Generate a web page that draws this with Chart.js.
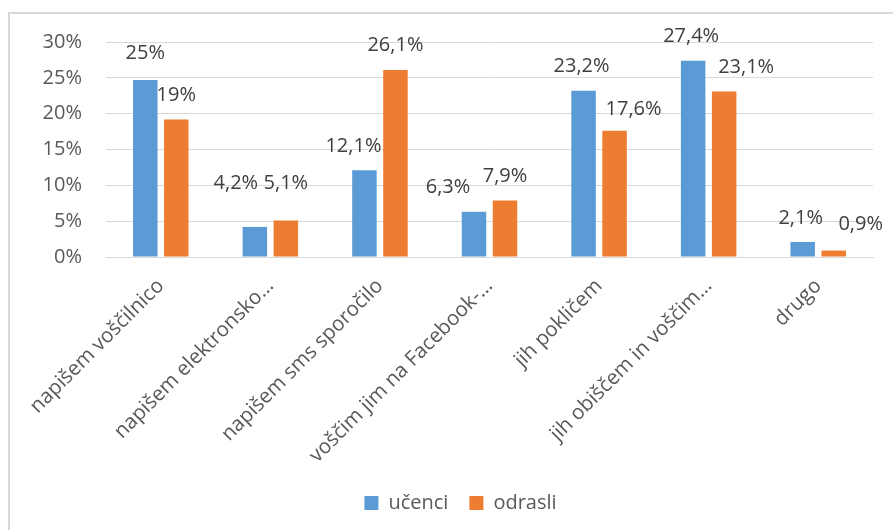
<!DOCTYPE html>
<html lang="sl">
<head>
  <meta charset="UTF-8" />
  <title>Voščila - graf</title>
  <script src="https://cdn.jsdelivr.net/npm/chart.js"></script>
  <style>
    html, body { margin: 0; padding: 0; background: #fff; }
    .okvir {
      position: absolute; left: 8px; top: 12px; width: 900px; height: 530px;
      border-top: 2px solid #d9d9d9; border-left: 2px solid #d9d9d9;
    }
    .graf { position: absolute; left: 0; top: 0; width: 893px; height: 530px; }
  </style>
</head>
<body>

  <div class="okvir"></div>
  <div class="graf"><canvas id="grafVoscila"></canvas></div>

  <script>
    const kategorije = [
      'napišem voščilnico',
      'napišem elektronsko…',
      'napišem sms sporočilo',
      'voščim jim na Facebook-…',
      'jih pokličem',
      'jih obiščem in voščim…',
      'drugo'
    ];
    const ucenci = [24.7, 4.2, 12.1, 6.3, 23.2, 27.4, 2.1];
    const odrasli = [19.2, 5.1, 26.1, 7.9, 17.6, 23.1, 0.9];
    const oznakeUcenci = ['25%', '4,2%', '12,1%', '6,3%', '23,2%', '27,4%', '2,1%'];
    const oznakeOdrasli = ['19%', '5,1%', '26,1%', '7,9%', '17,6%', '23,1%', '0,9%'];
    const yTicks = [0, 5, 10, 15, 20, 25, 30];

    // premiki oznak (ročno premaknjene v izvirniku)
    const premikX = [[0, -19, -11, -26, -2, -2, -2], [0, 0, 0, 0, 19, 22, 27]];
    const premikY = [[3, 20, 0, 1, 0, 0, 0], [0, 13, 1, 0, -2, 0, 2]];

    const pisava = "'Open Sans', sans-serif";

    const oznakePlugin = {
      id: 'oznake',
      afterLayout(chart) {
        // legenda je v izvirniku malo desno od sredine
        chart.legend.left += 24;
        chart.legend.right += 24;
      },
      afterDatasetsDraw(chart) {
        const ctx = chart.ctx;
        ctx.save();
        ctx.font = '20px ' + pisava;
        ctx.fillStyle = '#404040';
        ctx.textAlign = 'center';
        ctx.textBaseline = 'middle';
        const besedila = [oznakeUcenci, oznakeOdrasli];
        chart.data.datasets.forEach((ds, d) => {
          chart.getDatasetMeta(d).data.forEach((bar, i) => {
            ctx.fillText(besedila[d][i], bar.x + premikX[d][i], bar.y - 24 - premikY[d][i]);
          });
        });
        ctx.restore();
      }
    };

    const ctx = document.getElementById('grafVoscila');
    new Chart(ctx, {
      type: 'bar',
      data: {
        labels: kategorije,
        datasets: [
          { label: 'učenci', data: ucenci, backgroundColor: '#5b9bd5' },
          { label: 'odrasli', data: odrasli, backgroundColor: '#ed7d31' }
        ]
      },
      options: {
        responsive: true,
        maintainAspectRatio: false,
        animation: false,
        categoryPercentage: 0.566,
        barPercentage: 0.79,
        layout: { padding: { left: 0, right: 20, top: 42, bottom: 7 } },
        plugins: {
          legend: {
            position: 'bottom',
            labels: {
              boxWidth: 14, boxHeight: 14, padding: 21,
              color: '#595959', font: { family: pisava, size: 20 }
            }
          },
          tooltip: { enabled: false }
        },
        scales: {
          x: {
            grid: { display: false, drawTicks: false },
            border: { color: '#d9d9d9', width: 1 },
            ticks: {
              autoSkip: false, minRotation: 45, maxRotation: 45, padding: 17,
              color: '#595959', font: { family: pisava, size: 20.5 }
            },
            afterFit(scale) { scale.height = 215; }
          },
          y: {
            min: 0, max: 30,
            afterBuildTicks(scale) { scale.ticks = yTicks.map(v => ({ value: v })); },
            grid: { color: '#d9d9d9', drawTicks: false },
            border: { display: false },
            ticks: {
              padding: 24, color: '#595959', font: { family: pisava, size: 20 },
              callback: v => v + '%'
            },
            afterFit(scale) { scale.width = 106; }
          }
        }
      },
      plugins: [oznakePlugin]
    });
  </script>

</body>
</html>
